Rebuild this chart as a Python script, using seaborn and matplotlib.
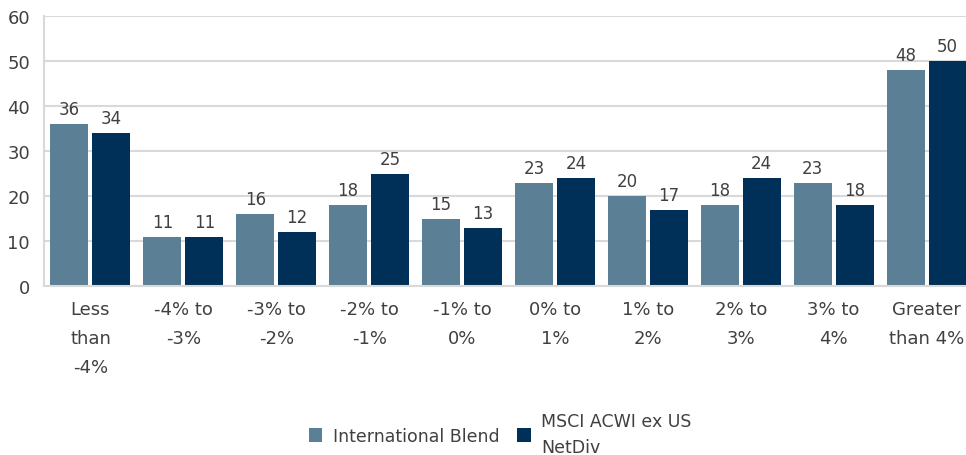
import matplotlib
matplotlib.use("Agg")
import matplotlib.pyplot as plt
import seaborn as sns
import pandas as pd

categories = ["Less\nthan\n-4%", "-4% to\n-3%", "-3% to\n-2%", "-2% to\n-1%", "-1% to\n0%",
              "0% to\n1%", "1% to\n2%", "2% to\n3%", "3% to\n4%", "Greater\nthan 4%"]
intl_blend = [36, 11, 16, 18, 15, 23, 20, 18, 23, 48]
msci_acwi = [34, 11, 12, 25, 13, 24, 17, 24, 18, 50]
series_names = ["International Blend", "MSCI ACWI ex US\nNetDiv"]
colors = ["#5B7F95", "#003057"]
yticks = [0, 10, 20, 30, 40, 50, 60]

df = pd.DataFrame({
    "category": categories * 2,
    "value": intl_blend + msci_acwi,
    "series": [series_names[0]] * len(categories) + [series_names[1]] * len(categories),
})

sns.set_theme(style="white")
plt.rcParams["font.family"] = ["DejaVu Sans"]
text_color = "#404040"
grid_color = "#D9D9D9"

fig = plt.figure(figsize=(9.66, 4.56), dpi=100)
ax = fig.add_axes([44 / 966, 1 - 287 / 456, 929 / 966, 270 / 456])

sns.barplot(data=df, x="category", y="value", hue="series", order=categories,
            hue_order=series_names, palette=colors, width=0.904, gap=0.095,
            saturation=1, linewidth=0, edgecolor="none", ax=ax, zorder=3)

for container in ax.containers:
    ax.bar_label(container, fmt="%d", padding=4, fontsize=12, color=text_color)

ax.set_ylim(0, 60)
ax.set_yticks(yticks)
ax.set_xlim(-0.5, len(categories) - 0.5)
ax.set_xlabel("")
ax.set_ylabel("")
ax.yaxis.grid(True, color=grid_color, linewidth=1.5, zorder=0)
ax.xaxis.grid(False)
for side in ["top", "right"]:
    ax.spines[side].set_visible(False)
for side in ["left", "bottom"]:
    ax.spines[side].set_color(grid_color)
    ax.spines[side].set_linewidth(1.5)
    ax.spines[side].set_zorder(4)

ax.tick_params(axis="y", length=0, pad=10, labelsize=13, labelcolor=text_color)
ax.tick_params(axis="x", length=0, pad=10, labelsize=13, labelcolor=text_color)
for lbl in ax.get_xticklabels():
    lbl.set_linespacing(1.78)
    lbl.set_verticalalignment("top")

ax.get_legend().remove()
handles, labels = ax.get_legend_handles_labels()
leg = fig.legend(handles[:2], labels[:2], loc="center", bbox_to_anchor=(500 / 966, 1 - 435 / 456),
                 ncol=2, frameon=False, fontsize=12.5, handlelength=0.8, handleheight=0.8,
                 handletextpad=0.6, columnspacing=1.0, labelcolor=text_color,
                 borderpad=0.1)
for t in leg.get_texts():
    t.set_linespacing(1.6)

fig.savefig("out.png", dpi=100)
